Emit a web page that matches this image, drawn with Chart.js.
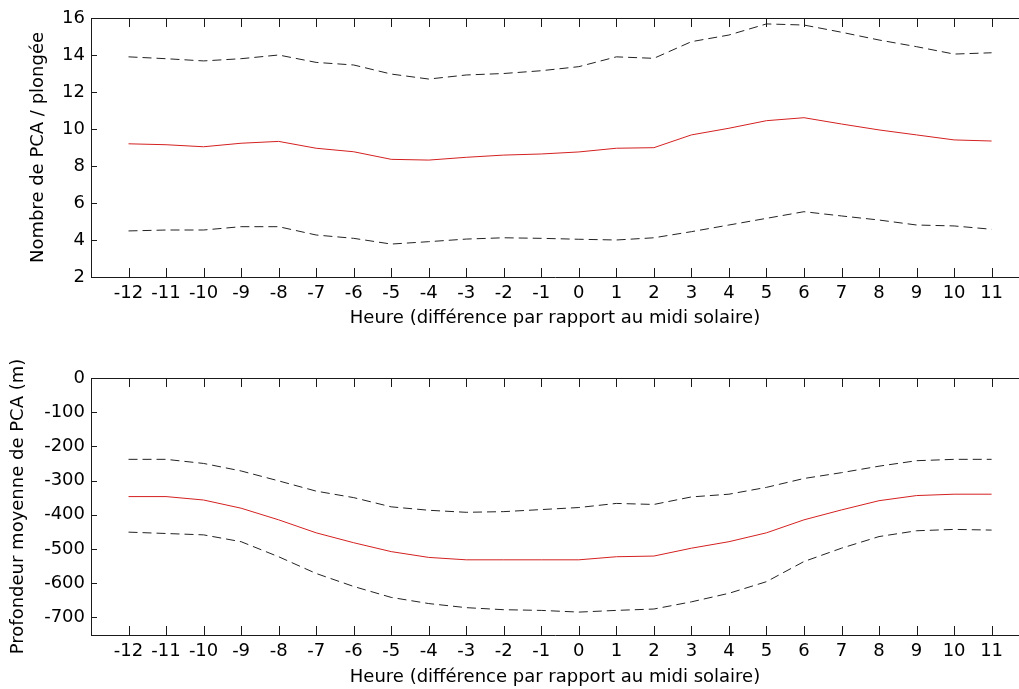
<!DOCTYPE html>
<html lang="fr">
<head>
    <meta charset="UTF-8">
    <title>PCA selon l'heure solaire</title>
    <script src="https://cdn.jsdelivr.net/npm/chart.js"></script>
    <style>
        body { margin: 0; background: #fff; }
        #countBox { position: absolute; left: 0; top: 0; }
        #depthBox { position: absolute; left: 0; top: 340px; }
    </style>
</head>
<body>
    <div id="countBox"><canvas id="countPlot" width="1019" height="340"></canvas></div>
    <div id="depthBox"><canvas id="depthPlot" width="1019" height="349"></canvas></div>

    <script>
        // heure relative au midi solaire
        const hours = [-12, -11, -10, -9, -8, -7, -6, -5, -4, -3, -2, -1, 0, 1, 2, 3, 4, 5, 6, 7, 8, 9, 10, 11];

        // nombre de PCA par plongée : moyenne et bornes
        const countMean = [9.2, 9.15, 9.04, 9.23, 9.33, 8.96, 8.77, 8.36, 8.32, 8.47, 8.59, 8.65, 8.76, 8.96, 8.99, 9.68, 10.04, 10.45, 10.61, 10.27, 9.95, 9.68, 9.41, 9.35];
        const countHigh = [13.9, 13.8, 13.68, 13.8, 14.0, 13.6, 13.46, 12.97, 12.7, 12.92, 13.0, 13.15, 13.37, 13.9, 13.82, 14.72, 15.08, 15.68, 15.62, 15.23, 14.81, 14.45, 14.05, 14.12];
        const countLow = [4.49, 4.54, 4.54, 4.72, 4.72, 4.27, 4.09, 3.78, 3.91, 4.05, 4.12, 4.09, 4.04, 4.0, 4.12, 4.45, 4.81, 5.17, 5.53, 5.3, 5.08, 4.81, 4.76, 4.58];

        // profondeur moyenne des PCA (m)
        const depthMean = [-347, -347, -357, -381, -415, -453, -482, -508, -525, -532, -532, -532, -532, -523, -521, -498, -479, -453, -415, -386, -359, -344, -340, -340];
        const depthHigh = [-238, -238, -250, -272, -301, -331, -350, -377, -387, -393, -391, -385, -379, -367, -370, -348, -340, -320, -294, -277, -258, -242, -238, -238];
        const depthLow = [-451, -455, -459, -479, -523, -572, -610, -642, -660, -672, -678, -680, -685, -680, -676, -655, -630, -596, -537, -498, -464, -447, -443, -445];

        const countTicks = [2, 4, 6, 8, 10, 12, 14, 16];
        const depthTicks = [-700, -600, -500, -400, -300, -200, -100, 0];

        const FONT = { family: 'DejaVu Sans', size: 18 };
        const INK = '#1a1a1a';

        // cadre du haut + graduations vers l'intérieur
        const frame = {
            id: 'frame',
            afterDraw(chart) {
                const { ctx, chartArea: a, scales: { x, y } } = chart;
                ctx.save();
                ctx.strokeStyle = INK;
                ctx.lineWidth = 1;
                ctx.beginPath();
                ctx.moveTo(a.left, Math.round(a.top) + 0.5);
                ctx.lineTo(a.right, Math.round(a.top) + 0.5);
                x.ticks.forEach(t => {
                    const px = Math.round(x.getPixelForValue(t.value)) + 0.5;
                    ctx.moveTo(px, a.bottom);
                    ctx.lineTo(px, a.bottom - 9);
                    ctx.moveTo(px, a.top);
                    ctx.lineTo(px, a.top + 9);
                });
                y.ticks.forEach(t => {
                    const py = Math.round(y.getPixelForValue(t.value)) + 0.5;
                    ctx.moveTo(a.left, py);
                    ctx.lineTo(a.left + 6, py);
                });
                ctx.stroke();
                ctx.restore();
            }
        };

        function series(values, color, dashed) {
            return {
                data: hours.map((h, i) => ({ x: h, y: values[i] })),
                borderColor: color,
                borderWidth: 1,
                borderDash: dashed ? [9, 5] : [],
                pointRadius: 0,
                tension: 0,
                fill: false
            };
        }

        function makePlot(id, opts) {
            return new Chart(document.getElementById(id), {
                type: 'line',
                data: {
                    datasets: [
                        series(opts.high, '#222', true),
                        series(opts.low, '#222', true),
                        series(opts.mean, '#d42020', false)
                    ]
                },
                options: {
                    responsive: false,
                    animation: false,
                    layout: { padding: { top: opts.padTop, left: 0, right: 0, bottom: 0 } },
                    plugins: { legend: { display: false }, tooltip: { enabled: false } },
                    scales: {
                        x: {
                            type: 'linear',
                            min: -13,
                            max: 11.73,
                            afterBuildTicks: s => { s.ticks = hours.map(v => ({ value: v })); },
                            afterFit: s => { s.height = opts.xHeight; },
                            grid: { display: true, drawOnChartArea: false, drawTicks: false },
                            border: { color: INK, width: 1 },
                            ticks: { autoSkip: false, maxRotation: 0, minRotation: 0, padding: 6, color: '#000', font: FONT },
                            title: {
                                display: true,
                                text: 'Heure (différence par rapport au midi solaire)',
                                color: '#000',
                                font: FONT,
                                padding: { top: 0, bottom: opts.xTitlePad }
                            }
                        },
                        y: {
                            min: opts.yMin,
                            max: opts.yMax,
                            afterBuildTicks: s => { s.ticks = opts.ticks.map(v => ({ value: v })); },
                            afterFit: s => { s.width = 91; },
                            grid: { display: true, drawOnChartArea: false, drawTicks: false },
                            border: { color: INK, width: 1 },
                            ticks: { padding: 6, color: '#000', font: FONT },
                            title: {
                                display: true,
                                text: opts.yTitle,
                                color: '#000',
                                font: FONT,
                                padding: { top: opts.yTitlePad, bottom: 0 }
                            }
                        }
                    }
                },
                plugins: [frame]
            });
        }

        makePlot('countPlot', {
            mean: countMean, high: countHigh, low: countLow,
            ticks: countTicks, yMin: 2, yMax: 16,
            yTitle: 'Nombre de PCA / plongée',
            padTop: 18, xHeight: 63, xTitlePad: 11, yTitlePad: 28
        });

        makePlot('depthPlot', {
            mean: depthMean, high: depthHigh, low: depthLow,
            ticks: depthTicks, yMin: -752, yMax: 0,
            yTitle: 'Profondeur moyenne de PCA (m)',
            padTop: 38, xHeight: 54, xTitlePad: 1, yTitlePad: 8
        });
    </script>
</body>
</html>
